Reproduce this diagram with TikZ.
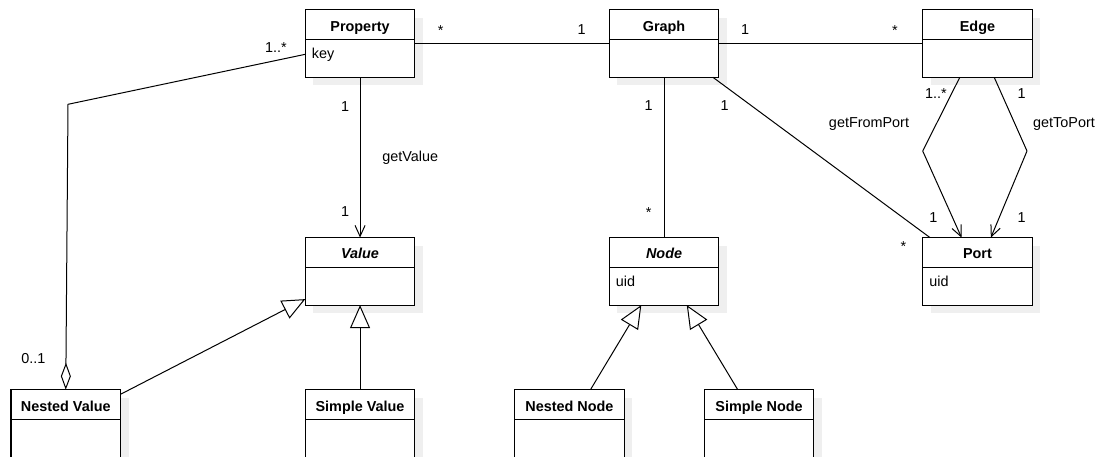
\documentclass[tikz,border=0pt]{standalone}
\usepackage{fontspec}
\setmainfont{Liberation Sans}
\usetikzlibrary{arrows.meta,calc,shadows}

\definecolor{shadowgray}{HTML}{EFEFEF}
\newcommand\diagfont{\fontsize{14.4}{17}\selectfont}

\tikzset{
  umlbox/.style={draw=black, line width=1.2pt, fill=white,
    minimum width=109.5pt, minimum height=67.5pt, inner sep=0pt, outer sep=0pt,
    anchor=north west,
    general shadow={shadow xshift=8pt, shadow yshift=-8pt, fill=shadowgray}},
  classtitle/.style={anchor=base, inner sep=0pt, font=\diagfont\bfseries},
  attr/.style={anchor=base west, inner sep=0pt, font=\diagfont},
  mult/.style={anchor=base, inner sep=0pt, font=\diagfont},
  assoc/.style={line width=1pt, line join=round},
  navarrow/.style={assoc, -{Straight Barb[length=11pt,width=10pt]}},
  inherit/.style={assoc, -{Triangle[open,length=23pt,width=20pt,fill=white]}},
  aggreg/.style={assoc, -{Diamond[open,length=27pt,width=10pt,fill=white]}},
}

% class box: name, left, top, title
\newcommand\umlclass[4]{%
  \node[umlbox] (#1) at (#2,#3) {};
  \draw[line width=1.2pt] ($(#1.north west)+(0pt,-29.8pt)$) -- ($(#1.north east)+(0pt,-29.8pt)$);
  \node[classtitle] (#1-title) at ($(#1.north)+(0pt,-21.3pt)$) {#4};
}
% attribute line of a class box
\newcommand\umlattr[2]{%
  \node[attr] (#1-attr) at ($(#1.north west)+(6.4pt,-48.6pt)$) {#2};
}

\begin{document}
\begin{tikzpicture}[x=1pt, y=-1pt]
\useasboundingbox (0,0) rectangle (1100,456);

% classes
\umlclass{prop}{305.3}{9.7}{Property}
\umlattr{prop}{key}
\umlclass{graph}{609.3}{9.7}{Graph}
\umlclass{edge}{922.7}{9.7}{Edge}
\umlclass{value}{305.3}{237.6}{\textit{Value}}
\umlclass{node}{609.3}{237.6}{\textit{Node}}
\umlattr{node}{uid}
\umlclass{port}{922.7}{237.6}{Port}
\umlattr{port}{uid}
\umlclass{nval}{11}{389.7}{Nested Value}
\umlclass{sval}{305.3}{389.7}{Simple Value}
\umlclass{nnode}{514.7}{389.7}{Nested Node}
\umlclass{snode}{704.3}{389.7}{Simple Node}

% bend points
\coordinate (aggbend) at (68,104.3);
\coordinate (frombend) at (922.7,151);
\coordinate (tobend) at (1027,151);

% associations
\draw[assoc] (prop.east) -- (graph.west);
\draw[assoc] (graph.east) -- (edge.west);
\draw[navarrow] (prop.south) -- (value.north);
\draw[aggreg] ($(prop.north west)+(0pt,-44.6pt)$) -- (aggbend) -- (nval.north);
\draw[assoc] (graph.south) -- (node.north);
\draw[assoc] ($(graph.south east)+(-6pt,0pt)$) -- ($(port.north west)+(7.3pt,0pt)$);
\draw[navarrow] ($(edge.south)+(-17.6pt,0pt)$) -- (frombend) -- ($(port.north)+(-15.9pt,0pt)$);
\draw[navarrow] ($(edge.south)+(16.7pt,0pt)$) -- (tobend) -- ($(port.north)+(13.4pt,0pt)$);

% generalizations
\draw[inherit] ($(nval.north east)+(0pt,-4.6pt)$) -- ($(value.south west)+(0pt,6pt)$);
\draw[inherit] (sval.north) -- (value.south);
\draw[inherit] ($(nnode.north)+(21pt,0pt)$) -- ($(node.south west)+(32pt,0pt)$);
\draw[inherit] ($(snode.north)+(-21.3pt,0pt)$) -- ($(node.south east)+(-32pt,0pt)$);

% multiplicities and role names
\node[mult] (m-pg-p) at (440.7,35) {*};
\node[mult] (m-pg-g) at (581.7,34) {1};
\node[mult] (m-ge-g) at (745,34) {1};
\node[mult] (m-ge-e) at (895,35.5) {*};
\node[mult] (m-agg-p) at (276,52.5) {1..*};
\node[mult] (m-agg-n) at (33.3,363.3) {0..1};
\node[mult] (m-pv-p) at (345,111) {1};
\node[mult] (r-pv) at (410.3,161.7) {getValue};
\node[mult] (m-pv-v) at (345,216.7) {1};
\node[mult] (m-gn-g) at (648.5,110) {1};
\node[mult] (m-gn-n) at (648.7,217.5) {*};
\node[mult] (m-gp-g) at (724.5,110.5) {1};
\node[mult] (m-gp-p) at (903.3,251) {*};
\node[mult] (r-from) at (869,127.5) {getFromPort};
\node[mult] (r-to) at (1064,127.5) {getToPort};
\node[mult] (m-from-e) at (936,98.3) {1..*};
\node[mult] (m-to-e) at (1021.7,98.3) {1};
\node[mult] (m-from-p) at (933.3,222.3) {1};
\node[mult] (m-to-p) at (1021.7,222.3) {1};
\end{tikzpicture}
\end{document}
